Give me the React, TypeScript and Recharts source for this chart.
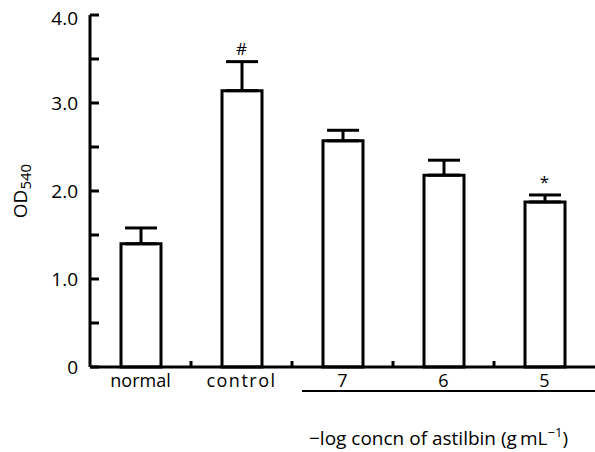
import React from "react";
import {
  BarChart,
  Bar,
  XAxis,
  YAxis,
  ErrorBar,
  ReferenceDot,
  Label,
} from "recharts";

const categories = ["normal", "control", "7", "6", "5"];
const means = [1.4, 3.14, 2.57, 2.18, 1.875];
const errors = [0.18, 0.33, 0.12, 0.17, 0.08];
const marks = ["", "#", "", "", "*"];
const yTicks = [0, 0.5, 1, 1.5, 2, 2.5, 3, 3.5, 4];
const groupLabel = "\u2212log concn of astilbin (g\u2009mL";

const FONT = "'Open Sans', sans-serif";

const data = categories.map((name, i) => ({
  name,
  value: means[i],
  err: [0, errors[i]],
}));

function XTick(props: any) {
  const { x, y, payload, index } = props;
  const half = payload.offset ?? props.width / props.visibleTicksCount / 2;
  const edge = x - half;
  return (
    <g>
      {index > 0 && (
        <line x1={edge} x2={edge} y1={y} y2={y - 6} stroke="#000" strokeWidth={3} />
      )}
      <text
        x={x}
        y={y + 20}
        textAnchor="middle"
        fontFamily={FONT}
        fontSize={18}
        fill="#000"
        letterSpacing={payload.value === "control" ? 1.5 : 0}
      >
        {payload.value}
      </text>
    </g>
  );
}

function YTick(props: any) {
  const { x, y, payload } = props;
  const v = payload.value as number;
  const isMajor = Number.isInteger(v);
  return (
    <g>
      <line x1={x} x2={x + 9} y1={y} y2={y} stroke="#000" strokeWidth={3} />
      {isMajor && (
        <text
          x={x - 12}
          y={y + (v === 4 ? 10 : 7)}
          textAnchor="end"
          fontFamily={FONT}
          fontSize={19}
          fill="#000"
        >
          {v === 0 ? "0" : v.toFixed(1)}
        </text>
      )}
    </g>
  );
}

function YTitle(props: any) {
  const vb = props.viewBox;
  const cx = vb.x + 20;
  const cy = vb.y + vb.height / 2;
  return (
    <text
      transform={`rotate(-90 ${cx} ${cy})`}
      x={cx}
      y={cy}
      textAnchor="middle"
      dominantBaseline="central"
      fontFamily={FONT}
      fontSize={19}
      fill="#000"
    >
      OD
      <tspan fontSize={15} dy={5}>540</tspan>
    </text>
  );
}

function GroupTitle(props: any) {
  const vb = props.viewBox;
  const x1 = vb.x + (vb.width * 2) / 5 + 10;
  const x2 = vb.x + vb.width;
  return (
    <g>
      <line x1={x1} x2={x2} y1={vb.y + 24} y2={vb.y + 24} stroke="#000" strokeWidth={2} />
      <text
        x={(x1 + x2) / 2 - 10}
        y={vb.y + 78}
        textAnchor="middle"
        fontFamily={FONT}
        fontSize={19}
        fill="#000"
      >
        {groupLabel}
        <tspan fontSize={13} dy={-8}>{"\u22121"}</tspan>
        <tspan dy={8}>)</tspan>
      </text>
    </g>
  );
}

export default function App() {
  return (
    <div style={{ position: "absolute", left: 0, top: 0, background: "#fff" }}>
      <BarChart
        width={595}
        height={452}
        data={data}
        margin={{ top: 15, right: 0, bottom: 0, left: 0 }}
      >
        <XAxis
          dataKey="name"
          height={85}
          tickSize={0}
          tickMargin={0}
          tickLine={false}
          axisLine={{ stroke: "#000", strokeWidth: 3 }}
          tick={<XTick />}
          interval={0}
        >
          <Label content={<GroupTitle />} />
        </XAxis>
        <YAxis
          width={90}
          domain={[0, 4]}
          ticks={yTicks}
          interval={0}
          tickSize={0}
          tickMargin={0}
          tickLine={false}
          axisLine={{ stroke: "#000", strokeWidth: 3 }}
          tick={<YTick />}
        >
          <Label content={<YTitle />} />
        </YAxis>
        <Bar
          dataKey="value"
          fill="#fff"
          stroke="#000"
          strokeWidth={3}
          barSize={40}
          isAnimationActive={false}
        >
          <ErrorBar
            dataKey="err"
            direction="y"
            width={16}
            stroke="#000"
            strokeWidth={3}
            isAnimationActive={false}
          />
        </Bar>
        {categories.map((c, i) =>
          marks[i] ? (
            <ReferenceDot
              key={c}
              x={c}
              y={means[i] + errors[i]}
              r={1}
              fill="none"
              stroke="none"
              label={{
                value: marks[i],
                position: "top",
                offset: 6,
                fill: "#000",
                fontSize: 17,
                fontFamily: FONT,
              }}
            />
          ) : null
        )}
      </BarChart>
    </div>
  );
}
